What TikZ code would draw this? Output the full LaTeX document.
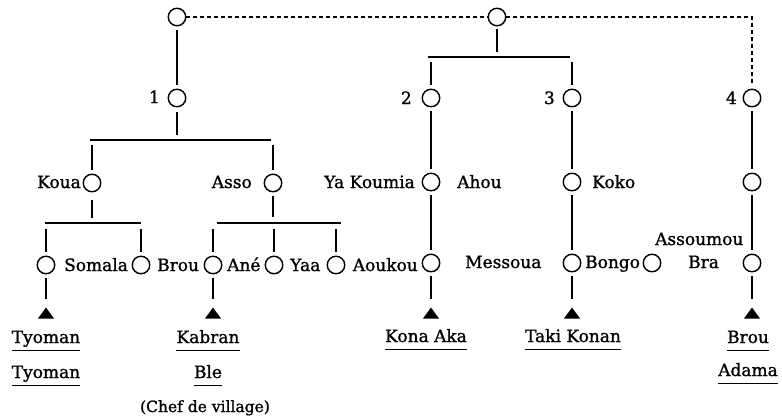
\documentclass[tikz,border=0pt]{standalone}
\usepackage{fontspec}
\setmainfont{DejaVu Serif}[UprightFeatures={FakeBold=1.2}]
\begin{document}
\begin{tikzpicture}[x=1pt,y=-1pt,
  person/.style={circle,draw,line width=1.4pt,minimum size=17.5pt,inner sep=0pt},
  kin/.style={line width=1.3pt},
  gap/.style={shorten <=4pt,shorten >=4pt},
  marriage/.style={line width=1.3pt,dash pattern=on 4pt off 3pt},
  lbl/.style={inner sep=0pt,font=\fontsize{17}{20}\selectfont},
  uline/.style={line width=1pt},
  chief/.style={rectangle,draw=none,minimum width=16pt,minimum height=11pt,inner sep=0pt,
    path picture={\fill (path picture bounding box.south west) -- (path picture bounding box.south east)
      -- (path picture bounding box.north) -- cycle;}}]
\useasboundingbox (0,0) rectangle (782,418);

% ancestors
\node[person] (L0) at (177,17) {};
\node[person] (R0) at (497,17) {};

% first generation
\node[person] (c1) at (177,98) {};
\node[person] (c2) at (431,98) {};
\node[person] (c3) at (572,98) {};
\node[person] (c4) at (752,98) {};

% second generation
\node[person] (koua) at (92,183) {};
\node[person] (asso) at (273,183) {};
\node[person] (yak)  at (431,182) {};
\node[person] (koko) at (572,182) {};
\node[person] (g4)   at (752,182) {};

% third generation
\node[person] (p1) at (46,265) {};
\node[person] (p2) at (141,265) {};
\node[person] (p3) at (213,265) {};
\node[person] (p4) at (274,265) {};
\node[person] (p5) at (336,265) {};
\node[person] (p6) at (431,263) {};
\node[person] (p7) at (572,263) {};
\node[person] (p8) at (652,263) {};
\node[person] (p9) at (752,263) {};

% village chiefs
\node[chief] (t1) at (46,313) {};
\node[chief] (t3) at (213,313) {};
\node[chief] (t6) at (431,313) {};
\node[chief] (t7) at (572,313) {};
\node[chief] (t9) at (752,313) {};

% sibling bars
\coordinate (sA) at (497,57);
\coordinate (sB) at (177,140);
\coordinate (sC) at (92,223);
\coordinate (sD) at (273,223);

% alliances between the two founding lines
\draw[marriage] (L0) -- (R0);
\draw[marriage,shorten >=4pt] (R0) -- (R0 -| c4) -- (c4);

% descent lines
\draw[kin,gap] (L0) -- (c1);
\draw[kin,shorten <=3pt,shorten >=5pt] (R0) -- (sA);
\draw[kin] ([xshift=-3pt]c2 |- sA) -- ([xshift=-2pt]c3 |- sA);
\draw[kin,shorten <=5pt,shorten >=4pt] (c2 |- sA) -- (c2);
\draw[kin,shorten <=5pt,shorten >=4pt] (c3 |- sA) -- (c3);

\draw[kin,shorten <=5pt,shorten >=5pt] (c1) -- (sB);
\draw[kin] ([xshift=-2pt]koua |- sB) -- ([xshift=-2pt]asso |- sB);
\draw[kin,shorten <=5pt,shorten >=4pt] (koua |- sB) -- (koua);
\draw[kin,shorten <=5pt,shorten >=4pt] (asso |- sB) -- (asso);

\draw[kin,shorten <=8pt,shorten >=5pt] (koua) -- (sC);
\draw[kin] ([xshift=-1pt]p1 |- sC) -- (p2 |- sC);
\draw[kin,shorten <=6pt,shorten >=4pt] (p1 |- sC) -- (p1);
\draw[kin,shorten <=6pt,shorten >=4pt] (p2 |- sC) -- (p2);

\draw[kin,shorten <=4pt,shorten >=6pt] (asso) -- (sD);
\draw[kin] ([xshift=4pt]p3 |- sD) -- ([xshift=5pt]p5 |- sD);
\draw[kin,shorten <=6pt,shorten >=4pt] (p3 |- sD) -- (p3);
\draw[kin,shorten <=6pt,shorten >=4pt] (p4 |- sD) -- (p4);
\draw[kin,shorten <=6pt,shorten >=4pt] (p5 |- sD) -- (p5);

\draw[kin,gap] (c2) -- (yak);
\draw[kin,gap] (c3) -- (koko);
\draw[kin,gap] (c4) -- (g4);
\draw[kin,gap] (yak) -- (p6);
\draw[kin,gap] (koko) -- (p7);
\draw[kin,gap] (g4) -- (p9);

\foreach \a/\b in {p1/t1,p3/t3,p6/t6,p7/t7,p9/t9}
  \draw[kin,shorten <=4pt,shorten >=8pt] (\a) -- (\b);

% numbers of the lineages
\node[lbl,anchor=base east] (n1) at (160,103) {1};
\node[lbl,anchor=base east] (n2) at (412,104) {2};
\node[lbl,anchor=base east] (n3) at (555,104) {3};
\node[lbl,anchor=base east] (n4) at (737,104) {4};

% names
\node[lbl,anchor=base east] (nkoua) at (81,188) {Koua};
\node[lbl,anchor=base east] (nasso) at (252,188) {Asso};
\node[lbl,anchor=base east] (nyak) at (415,188) {Ya Koumia};
\node[lbl,anchor=base west] (nahou) at (457,188) {Ahou};
\node[lbl,anchor=base west] (nkoko) at (592,188) {Koko};

\node[lbl,anchor=base west] (nsom) at (64,271) {Somala};
\node[lbl,anchor=base west] (nbrou) at (157,271) {Brou};
\node[lbl,anchor=base west] (nane) at (227,271) {Ané};
\node[lbl,anchor=base west] (nyaa) at (290,271) {Yaa};
\node[lbl,anchor=base east] (naou) at (418,271) {Aoukou};
\node[lbl,anchor=base west] (nmes) at (465,268) {Messoua};
\node[lbl,anchor=base west] (nbon) at (585,268) {Bongo};
\node[lbl,anchor=base west] (nass) at (655,245) {Assoumou};
\node[lbl,anchor=base west] (nbra) at (688,268) {Bra};

% chiefs' names
\node[lbl,anchor=base] (ty1) at (46,343) {Tyoman};
\node[lbl,anchor=base] (ty2) at (46,378) {Tyoman};
\node[lbl,anchor=base] (kab) at (208,343) {Kabran};
\node[lbl,anchor=base] (ble) at (208,378) {Ble};
\node[lbl,anchor=base] (kona) at (426,342) {Kona Aka};
\node[lbl,anchor=base] (taki) at (573,342) {Taki Konan};
\node[lbl,anchor=base] (brou) at (748,343) {Brou};
\node[lbl,anchor=base] (adama) at (748,376) {Adama};
\foreach \n in {ty1,ty2,kab,ble,kona,taki,brou,adama}
  \draw[uline] ([yshift=-7pt]\n.base west) -- ([yshift=-7pt]\n.base east);

\node[lbl,anchor=base,font=\fontsize{15.5}{18}\selectfont] (chef) at (205,412) {(Chef de village)};
\end{tikzpicture}
\end{document}
